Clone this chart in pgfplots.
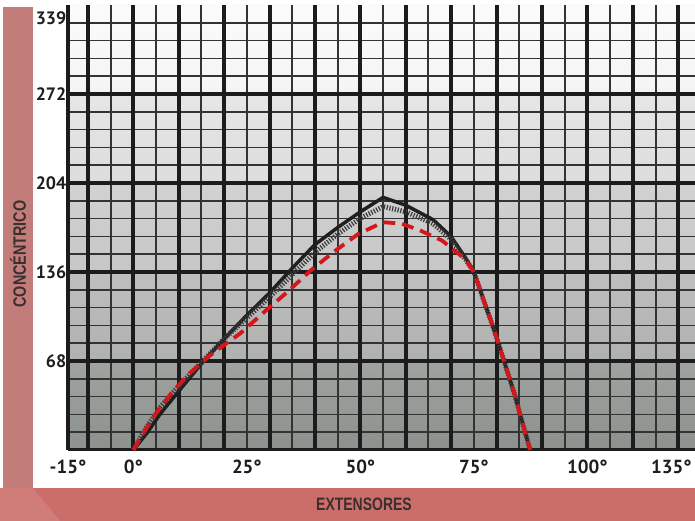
\documentclass[border=0pt]{standalone}
\usepackage{fontspec}
\setmainfont{PT Sans}
\newfontfamily\condfont{Liberation Sans}
\usepackage{pgfplots}
\pgfplotsset{compat=1.18}
\definecolor{leftbar}{HTML}{C27C7A}
\definecolor{botbar}{HTML}{CB6E69}
\definecolor{bartext}{HTML}{3A2E2E}
\definecolor{gridc}{HTML}{1C1C1C}
\definecolor{curvered}{HTML}{D5171C}
\definecolor{dotc}{HTML}{3A3A3A}
\definecolor{labc}{HTML}{1E1E1E}
\definecolor{bandAt}{HTML}{FBFBFB}
\definecolor{bandAb}{HTML}{F4F4F4}
\definecolor{bandBt}{HTML}{E6E6E6}
\definecolor{bandBb}{HTML}{DCDCDC}
\definecolor{bandCt}{HTML}{D2D2D2}
\definecolor{bandCb}{HTML}{C6C6C6}
\definecolor{bandDt}{HTML}{BEBFBE}
\definecolor{bandDb}{HTML}{AFB1AF}
\definecolor{bandEt}{HTML}{A0A4A0}
\definecolor{bandEb}{HTML}{8D918D}

% curves (degrees, value)
\pgfplotstableread{
x y
0 0
3 13
6 28
10 45
15 66
20 85
25 103
30 120
35 139
40 157
45 170
50 182
55 193
60 187
66 176
70 163
73.5 145
75 136
78 106
80 86
82 64
84 42
86 17
87.4 0
}\solid
\pgfplotstableread{
x y
0 0
3 18
6 33
10 49
15 67
20 85
25 101
30 117
35 134
40 151
45 165
50 177
55 186
60 182
66 173
70 161
73.5 144
75 136
78 106
80 86
82 64
84 42
86 17
87.4 0
}\dotted
\pgfplotstableread{
x y
0 0
2 12
5 28
8.5 44
12.5 59
17.5 74
23.5 89
29 106
34 121
39 137
44 151
49.5 165
55 174
59 173
63 168
68 160
73 146
75 136
78 106
80 86
82 64
84 42
86 17
87.4 0
}\dashed

\begin{document}
\begin{tikzpicture}
\fill[white] (0,0) rectangle (695bp,521bp);
\fill[leftbar] (3bp,33bp) rectangle (33bp,514bp);
\fill[botbar] (0,0) rectangle (695bp,33bp);
\fill[botbar!80!white, opacity=0.5] (0,0) -- (0,33bp) -- (33bp,33bp) -- (60bp,0) -- cycle;
\node[rotate=90, text=bartext, inner sep=0] at (18bp,267bp)
  {\scalebox{0.8}[1]{\condfont\bfseries\fontsize{18}{18}\selectfont CONCÉNTRICO}};
\node[text=bartext, inner sep=0] at (364bp,17bp)
  {\scalebox{0.78}[1]{\condfont\bfseries\fontsize{18}{18}\selectfont EXTENSORES}};

\begin{axis}[
  at={(68bp,71bp)}, anchor=south west,
  scale only axis, width=627bp, height=445bp,
  xmin=-14.4, xmax=123.7, ymin=0, ymax=340,
  clip=false,
  axis line style={draw=none},
  major tick length=0,
  xtick={-14.4,0,25,50,75,100,118.5},
  xticklabels={-15°,0°,25°,50°,75°,100°,135°},
  ytick={68,136,204,272,330},
  yticklabels={68,136,204,272,339},
  xticklabel style={font=\bfseries\fontsize{19}{19}\selectfont, text=labc, yshift=-6bp},
  yticklabel style={font=\bfseries\fontsize{18}{18}\selectfont, text=labc, inner sep=1.5bp},
]
% background bands
\path[top color=bandAt, bottom color=bandAb] (axis cs:-14.4,272) rectangle (axis cs:123.7,340);
\path[top color=bandBt, bottom color=bandBb] (axis cs:-14.4,204) rectangle (axis cs:123.7,272);
\path[top color=bandCt, bottom color=bandCb] (axis cs:-14.4,136) rectangle (axis cs:123.7,204);
\path[top color=bandDt, bottom color=bandDb] (axis cs:-14.4,68) rectangle (axis cs:123.7,136);
\path[top color=bandEt, bottom color=bandEb] (axis cs:-14.4,0) rectangle (axis cs:123.7,68);
% grid
\pgfplotsinvokeforeach{-5,5,...,115}{
  \draw[line width=2bp, gridc!90] (axis cs:#1,0) -- (axis cs:#1,340);}
\pgfplotsinvokeforeach{13.6,27.2,40.8,54.4,81.6,95.2,108.8,122.4,149.6,163.2,176.8,190.4,217.6,231.2,244.8,258.4,285.6,299.2,312.8,326.4}{
  \draw[line width=1.6bp, gridc!90] (axis cs:-14.4,#1) -- (axis cs:123.7,#1);}
\pgfplotsinvokeforeach{68,136,204,272}{
  \draw[line width=3.2bp, gridc] (axis cs:-14.4,#1) -- (axis cs:123.7,#1);}
\pgfplotsinvokeforeach{-10,0,...,120}{
  \draw[line width=4bp, gridc] (axis cs:#1,0) -- (axis cs:#1,340);}
\draw[line width=4bp, gridc] (axis cs:-14.4,0) -- (axis cs:-14.4,340);
\draw[line width=3bp, gridc] (axis cs:-14.4,0) -- (axis cs:123.7,0);
% curves
\addplot[line width=3.5bp, color=black!88, line join=round] table {\solid};
\addplot[line width=5bp, color=dotc, dash pattern=on 1.2bp off 1.6bp] table {\dotted};
\addplot[line width=3.8bp, color=curvered, dash pattern=on 12bp off 7bp] table {\dashed};
\end{axis}
\pgfresetboundingbox
\path[use as bounding box] (0,0) rectangle (695bp,521bp);
\end{tikzpicture}
\end{document}
